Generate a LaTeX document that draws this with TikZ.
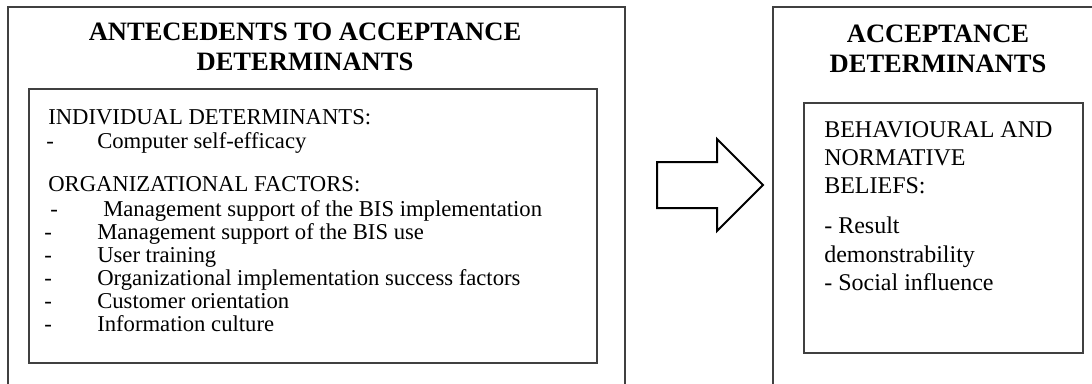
\documentclass[tikz,border=0pt]{standalone}
\usepackage{fontspec}
\setmainfont{Liberation Serif}
\usetikzlibrary{positioning}

\tikzset{
    boxline/.style={draw=black!75, line width=1.1pt},
    arrowline/.style={draw=black, line width=1.5pt, line join=miter},
    titletext/.style={font=\fontsize{19.9}{22.5}\selectfont\bfseries, align=center, inner sep=0pt, anchor=base},
    bodytext/.style={font=\fontsize{17}{17.3}\selectfont, inner sep=0pt, anchor=base west},
    belieftext/.style={font=\fontsize{18}{21}\selectfont, inner sep=0pt, anchor=base west}
}

\begin{document}
\begin{tikzpicture}[x=0.75pt, y=-0.75pt]
    \useasboundingbox (0,0) rectangle (1092,383);
    \clip (0,0) rectangle (1092,383);
    % outer boxes, cut at the page edge
    \draw[boxline] (8,7) rectangle (625,400);
    \draw[boxline] (773,7) rectangle (1110,400);
    % inner boxes
    \draw[boxline] (29,89) rectangle (597,363);
    \draw[boxline] (804,103) rectangle (1083,353);
    % titles
    \node[titletext] (antetitleA) at (305,40) {ANTECEDENTS TO ACCEPTANCE};
    \node[titletext] (antetitleB) at (305,70) {DETERMINANTS};
    \node[titletext] (acctitleA) at (938,42) {ACCEPTANCE};
    \node[titletext] (acctitleB) at (938,72) {DETERMINANTS};
    % left box text
    \node[bodytext] (indiv) at (48,124) {INDIVIDUAL DETERMINANTS:};
    \node[bodytext] (indivdash) at (46,148) {-};
    \node[bodytext] (indivitem) at (97,148) {Computer self-efficacy};
    \node[bodytext] (orgfac) at (48,191) {ORGANIZATIONAL FACTORS:};
    \node[bodytext] (orgdash1) at (50,216) {-};
    \node[bodytext] (orgitem1) at (103,216) {Management support of the BIS implementation};
    \foreach \ty/\tx [count=\i from 2] in {239/Management support of the BIS use,
                                           262/User training,
                                           285/Organizational implementation success factors,
                                           308/Customer orientation,
                                           331/Information culture}{
        \node[bodytext] (orgdash\i) at (44,\ty) {-};
        \node[bodytext] (orgitem\i) at (97,\ty) {\tx};
    }
    % right box text
    \foreach \ty/\tx [count=\i] in {137/BEHAVIOURAL AND, 165/NORMATIVE, 193/BELIEFS:,
                                    233/- Result, 262/demonstrability, 290/- Social influence}{
        \node[belieftext] (belief\i) at (824,\ty) {\tx};
    }
    % block arrow
    \draw[arrowline] (657,162) -- (717,162) -- (717,139) -- (763,185)
        -- (717,231) -- (717,208) -- (657,208) -- cycle;
\end{tikzpicture}
\end{document}
